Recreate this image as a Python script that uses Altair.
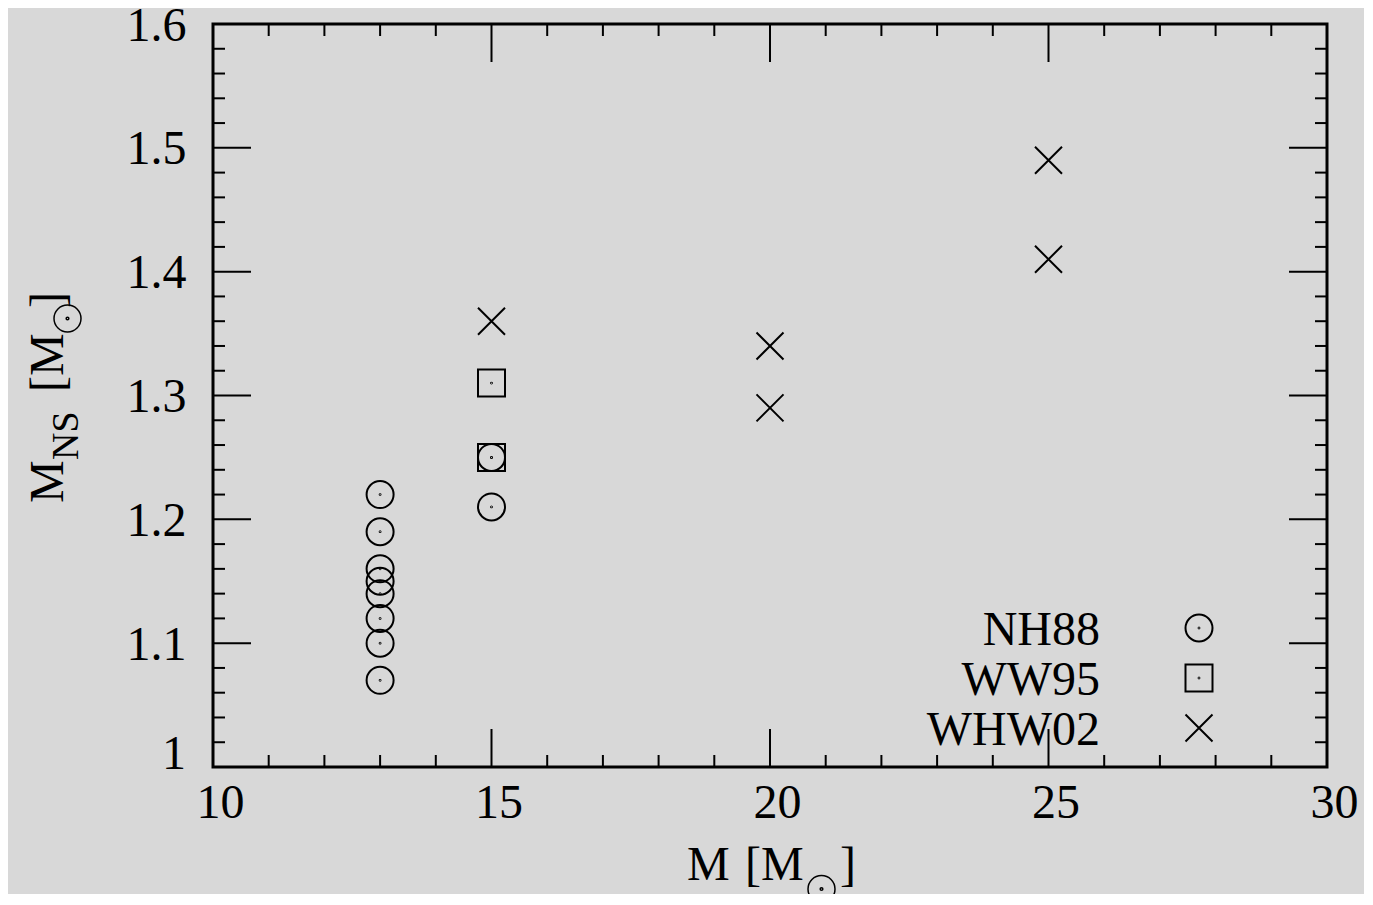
import altair as alt
import pandas as pd

# ---------------- data ----------------
series = ["NH88", "WW95", "WHW02"]
nh88_x = [13, 13, 13, 13, 13, 13, 13, 13, 15, 15]
nh88_y = [1.22, 1.19, 1.16, 1.15, 1.14, 1.12, 1.10, 1.07, 1.25, 1.21]
ww95_x = [15, 15]
ww95_y = [1.31, 1.25]
whw02_x = [15, 20, 20, 25, 25]
whw02_y = [1.36, 1.34, 1.29, 1.49, 1.41]

x_major = [10, 15, 20, 25, 30]
x_minor = [11, 12, 13, 14, 16, 17, 18, 19, 21, 22, 23, 24, 26, 27, 28, 29]
y_major = [1.0, 1.1, 1.2, 1.3, 1.4, 1.5, 1.6]
y_minor = [1.02, 1.04, 1.06, 1.08, 1.12, 1.14, 1.16, 1.18,
           1.22, 1.24, 1.26, 1.28, 1.32, 1.34, 1.36, 1.38,
           1.42, 1.44, 1.46, 1.48, 1.52, 1.54, 1.56, 1.58]

x_title = ["M", "[M", "]"]
y_title = ["M", "NS", "[M", "]"]

FONT = "Liberation Serif"
W, H = 1114, 743
MAJ, MIN = 38, 12

rows = []
for name, xs_, ys_ in [("NH88", nh88_x, nh88_y), ("WW95", ww95_x, ww95_y), ("WHW02", whw02_x, whw02_y)]:
    for a, b in zip(xs_, ys_):
        rows.append({"series": name, "M": a, "MNS": b})
df = pd.DataFrame(rows)

xs = alt.Scale(domain=[10, 30], nice=False, zero=False)
ys = alt.Scale(domain=[1.0, 1.6], nice=False, zero=False)

xaxis = alt.Axis(values=x_major, format="d", title=None, grid=False,
                 domain=False, ticks=False, tickSize=0, labelPadding=12,
                 labelOffset=7, labelFontSize=48, labelFont=FONT,
                 labelColor="black", labelFlush=False, labelOverlap=False)
yaxis = alt.Axis(values=y_major[1:], format=".1f", title=None, grid=False,
                 domain=False, ticks=False, tickSize=0, labelPadding=27, labelOffset=2,
                 labelFontSize=48, labelFont=FONT, labelColor="black",
                 labelFlush=False, labelOverlap=False)

dot = "M0.03,0A0.03,0.03,0,1,1,-0.03,0A0.03,0.03,0,1,1,0.03,0Z"
circle_path = "M1,0A1,1,0,1,1,-1,0A1,1,0,1,1,1,0Z" + dot
square_path = "M-1,-1L1,-1L1,1L-1,1Z" + dot
cross_path = "M-1,-1L1,1M-1,1L1,-1"
sun_path = "M1,0A1,1,0,1,1,-1,0A1,1,0,1,1,1,0Z M0.1,0A0.1,0.1,0,1,1,-0.1,0A0.1,0.1,0,1,1,0.1,0Z"
shape_scale = alt.Scale(domain=series, range=[circle_path, square_path, cross_path])

points = alt.Chart(df).mark_point(filled=False, size=729, stroke="black", strokeWidth=2, opacity=1).encode(
    x=alt.X("M:Q", scale=xs, axis=xaxis),
    y=alt.Y("MNS:Q", scale=ys, axis=yaxis),
    shape=alt.Shape("series:N", scale=shape_scale, legend=None),
)

first_label = alt.Chart(pd.DataFrame({"v": [y_major[0]], "t": ["1"]})).mark_text(
    align="right", baseline="middle", dy=-12, fontSize=48, font=FONT, color="black"
).encode(x=alt.value(-27), y=alt.Y("v:Q", scale=ys, axis=yaxis), text="t:N")


def xticks(vals, length):
    d = pd.DataFrame({"v": vals})
    base = alt.Chart(d).mark_rule(color="black", strokeWidth=2)
    bottom = base.encode(x=alt.X("v:Q", scale=xs, axis=xaxis), y=alt.value(H), y2=alt.value(H - length))
    top = base.encode(x=alt.X("v:Q", scale=xs, axis=xaxis), y=alt.value(0), y2=alt.value(length))
    return [bottom, top]


def yticks(vals, length):
    d = pd.DataFrame({"v": vals})
    base = alt.Chart(d).mark_rule(color="black", strokeWidth=2)
    left = base.encode(y=alt.Y("v:Q", scale=ys, axis=yaxis), x=alt.value(0), x2=alt.value(length))
    right = base.encode(y=alt.Y("v:Q", scale=ys, axis=yaxis), x=alt.value(W), x2=alt.value(W - length))
    return [left, right]


one = pd.DataFrame({"a": [0]})


def txt(s, x, y, size=48, angle=0, align="left"):
    kw = dict(text=s, align=align, baseline="alphabetic", fontSize=size, font=FONT, color="black")
    if angle:
        kw["angle"] = angle
    return alt.Chart(one).mark_text(**kw).encode(x=alt.value(x), y=alt.value(y))


def sun(x, y):
    return alt.Chart(one).mark_point(shape=sun_path, filled=False, size=729, stroke="black",
                                     strokeWidth=1.5, opacity=1).encode(x=alt.value(x), y=alt.value(y))


# legend (text to the left of symbol, as in the original)
legend_layers = []
for i, name in enumerate(series):
    legend_layers.append(txt(name, 887, 621 + 50 * i, 48, 0, "right"))
    legend_layers.append(
        alt.Chart(pd.DataFrame({"series": [name]})).mark_point(
            filled=False, size=729, stroke="black", strokeWidth=2, opacity=1
        ).encode(x=alt.value(986), y=alt.value(604 + 50 * i),
                 shape=alt.Shape("series:N", scale=shape_scale, legend=None))
    )

titles = [
    txt(x_title[0], 474, 856), txt(x_title[1], 532, 856), sun(608.5, 865), txt(x_title[2], 627, 856),
    txt(y_title[0], -150, 479, 48, 270), txt(y_title[1], -135, 436, 38, 270),
    txt(y_title[2], -150, 368, 48, 270), sun(-145.5, 294.5), txt(y_title[3], -150, 284, 48, 270),
]

layers = xticks(x_major, MAJ) + xticks(x_minor, MIN) + yticks(y_major, MAJ) + yticks(y_minor, MIN)

chart = alt.layer(points, first_label, *layers, *legend_layers, *titles).properties(
    width=W, height=H,
    autosize=alt.AutoSizeParams(type="none"),
    padding={"left": 205, "top": 16, "right": 37, "bottom": 127},
).configure(background="#d8d8d8").configure_view(stroke="black", strokeWidth=3)

chart.save("out.html", embed_options={"renderer": "svg", "actions": False})
